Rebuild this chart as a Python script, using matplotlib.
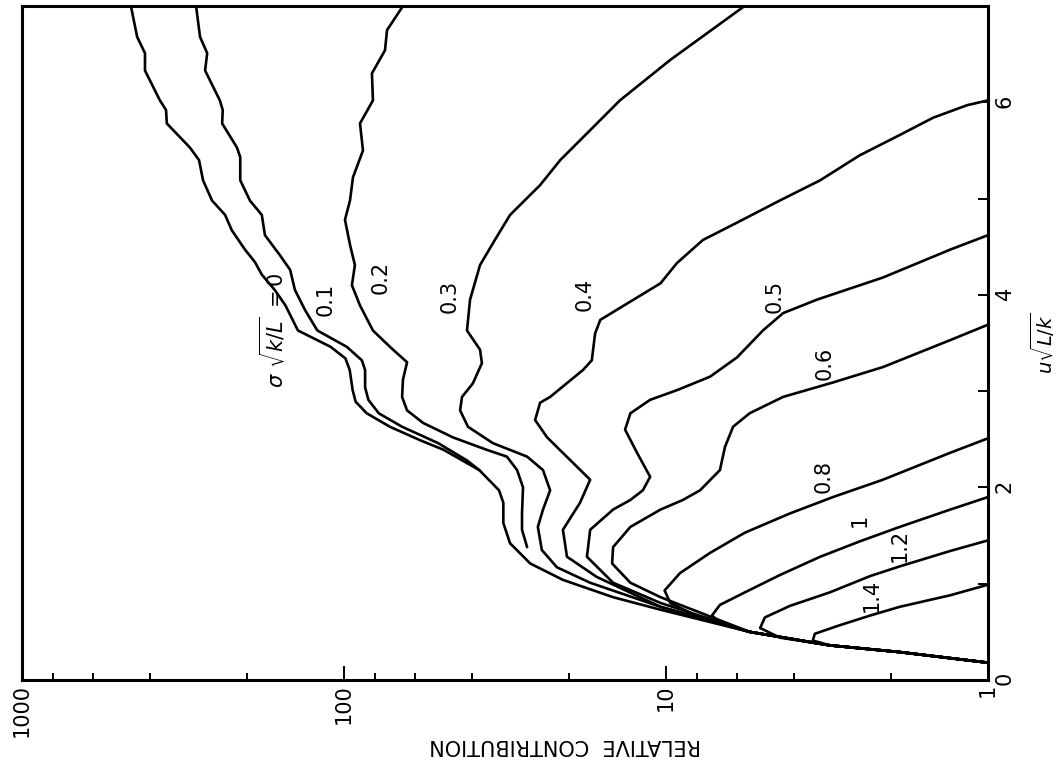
import matplotlib
matplotlib.use('Agg')
import matplotlib.pyplot as plt
from matplotlib.ticker import FixedLocator, NullFormatter

plt.rcParams['font.family'] = ['DejaVu Sans']
plt.rcParams['mathtext.fontset'] = 'dejavusans'

# values: u*sqrt(L/k) and relative contribution
# for each sigma*sqrt(k/L)
u_00 = [0.18, 0.29, 0.36, 0.50, 0.73, 0.86, 1.04, 1.21, 1.42, 1.63, 1.84, 1.97,
        2.18, 2.39, 2.49, 2.63, 2.77, 2.89, 3.01, 3.22, 3.34, 3.46, 3.63, 3.89,
        4.05, 4.21, 4.34, 4.47, 4.67, 4.83, 4.98, 5.19, 5.40, 5.53, 5.78, 5.92,
        6.02, 6.33, 6.51, 6.68, 7.0]
c_00 = [1, 1.88, 3.1, 5.5, 10.4, 14.6, 20.9, 26.4, 30.5, 32, 32, 33,
        38, 49, 58, 72, 85, 92, 94, 96, 99, 110, 139, 152,
        164, 180, 189, 203, 223, 234, 257, 274, 282, 301, 355, 357,
        373, 415, 415, 439, 459]

u_01 = [2.18, 2.28, 2.46, 2.63, 2.77, 2.91, 3.04, 3.22, 3.32, 3.46, 3.63, 3.84,
        4.05, 4.26, 4.41, 4.62, 4.83, 4.98, 5.19, 5.43, 5.53, 5.78, 5.92, 6.02,
        6.33, 6.51, 6.68, 7.0]
c_01 = [38, 41.5, 51, 66, 78, 84, 86, 86, 88, 98, 121, 132,
        142, 147, 158, 176, 180, 196, 210, 210, 215, 239, 238, 243,
        270, 266, 280, 288]

u_02 = [1.38, 1.56, 1.73, 2.00, 2.18, 2.32, 2.39, 2.52, 2.67, 2.80, 2.94, 3.12,
        3.30, 3.46, 3.63, 3.89, 4.10, 4.31, 4.52, 4.78, 4.98, 5.22, 5.50, 5.78,
        6.02, 6.30, 6.54, 6.75, 7.0]
c_02 = [27, 28, 28, 27.8, 29, 31.2, 36, 45.9, 56.8, 63.7, 66, 65.6,
        63.7, 72, 81.3, 89.2, 94.5, 92.5, 95.8, 99.3, 95.8, 93.8, 87.3, 89.2,
        81.3, 81.9, 74.6, 73.5, 65.6]

u_03 = [0.18, 0.29, 0.36, 0.50, 0.76, 1.01, 1.17, 1.35, 1.59, 1.77, 1.97, 2.18,
        2.32, 2.46, 2.63, 2.80, 2.94, 3.08, 3.29, 3.43, 3.63, 3.95, 4.31, 4.57,
        4.83, 5.14, 5.40, 5.71, 6.02, 6.44, 7.0]
c_03 = [1, 1.88, 3.1, 5.5, 10.4, 17.2, 21.8, 24.3, 25, 24.1, 22.9, 24.1,
        27, 34.5, 41.2, 43.6, 43, 39.8, 37.3, 37.8, 41.5, 40.6, 37.8, 34,
        30.5, 24.6, 21.3, 17.2, 13.9, 9.7, 5.7]

u_04 = [0.18, 0.29, 0.36, 0.50, 0.76, 1.07, 1.28, 1.56, 1.84, 2.08, 2.52, 2.70,
        2.88, 2.94, 3.22, 3.32, 3.60, 3.74, 3.91, 4.12, 4.33, 4.57, 4.75, 4.98,
        5.19, 5.45, 5.66, 5.84, 5.97, 6.02]
c_04 = [1, 1.88, 3.1, 5.5, 10.4, 16.4, 20.3, 20.9, 18.5, 17.2, 23.4, 25.5,
        24.6, 22.9, 18.1, 17, 16.6, 16, 13.2, 10.4, 9.25, 7.68, 6.02, 4.43,
        3.32, 2.5, 1.88, 1.48, 1.16, 1.0]

u_05 = [0.18, 0.29, 0.36, 0.50, 0.80, 1.01, 1.28, 1.56, 1.77, 1.87, 1.97, 2.11,
        2.36, 2.60, 2.77, 2.91, 3.01, 3.15, 3.35, 3.63, 3.81, 3.95, 4.18, 4.47,
        4.62]
c_05 = [1, 1.88, 3.1, 5.5, 10.4, 14.6, 17.6, 17.2, 14.6, 12.9, 11.8, 11.2,
        12.3, 13.4, 12.9, 11.2, 9.25, 7.3, 6.02, 5.0, 4.33, 3.4, 2.12, 1.31,
        1.0]

u_06 = [0.18, 0.29, 0.36, 0.50, 0.86, 1.01, 1.21, 1.38, 1.59, 1.77, 1.87, 1.97,
        2.18, 2.42, 2.63, 2.77, 2.94, 3.09, 3.25, 3.53, 3.69]
c_06 = [1, 1.88, 3.1, 5.5, 10.4, 12.9, 14.7, 14.6, 12.9, 10.4, 8.86, 7.84,
        6.8, 6.56, 6.19, 5.5, 4.33, 3.03, 2.12, 1.31, 1.0]

u_08 = [0.18, 0.29, 0.36, 0.50, 0.65, 0.80, 0.93, 1.11, 1.32, 1.53, 1.73, 1.90,
        2.08, 2.36, 2.51]
c_08 = [1, 1.88, 3.1, 5.5, 7.84, 9.7, 10.1, 9.05, 7.3, 5.69, 4.12, 3.03,
        2.12, 1.31, 1.0]

u_10 = [0.18, 0.29, 0.36, 0.50, 0.58, 0.67, 0.78, 0.91, 1.09, 1.28, 1.44, 1.59,
        1.77, 1.90]
c_10 = [1, 1.88, 3.1, 5.5, 6.7, 7.2, 6.8, 5.69, 4.43, 3.32, 2.5, 1.88,
        1.31, 1.0]

u_12 = [0.18, 0.29, 0.36, 0.44, 0.54, 0.65, 0.77, 0.91, 1.08, 1.18, 1.34, 1.45]
c_12 = [1, 1.88, 3.1, 4.43, 5.1, 4.93, 4.12, 3.1, 2.32, 1.88, 1.31, 1.0]

u_14 = [0.18, 0.29, 0.36, 0.41, 0.48, 0.57, 0.67, 0.76, 0.88, 0.99]
c_14 = [1, 1.88, 3.1, 3.5, 3.45, 2.88, 2.32, 1.88, 1.31, 1.0]

curves = [(u_00, c_00), (u_01, c_01), (u_02, c_02), (u_03, c_03), (u_04, c_04),
          (u_05, c_05), (u_06, c_06), (u_08, c_08), (u_10, c_10), (u_12, c_12),
          (u_14, c_14)]

curve_labels = [r'$\sigma\ \sqrt{k/L}\ = 0$', '0.1', '0.2', '0.3', '0.4', '0.5',
                '0.6', '0.8', '1', '1.2', '1.4']
# where each label sits (relative contribution, u)
label_pos = [(167, 3.63), (114, 3.95), (77, 4.18), (46.9, 3.98), (17.9, 4.00),
             (4.59, 3.98), (3.21, 3.29), (3.25, 2.11), (2.5, 1.66), (1.88, 1.40),
             (2.29, 0.88)]

x_ticks = [1, 10, 100, 1000]
x_ticklabels = ['1', '10', '100', '1000']
y_ticks = [0, 2, 4, 6]

fig = plt.figure(figsize=(10.56, 7.77), dpi=100)
ax = fig.add_axes([22 / 1056, 1 - 680 / 777, 966 / 1056, 674 / 777])

for u, c in curves:
    ax.plot(c, u, color='black', lw=1.9, solid_joinstyle='round',
            solid_capstyle='round')

for txt, (cx, uy) in zip(curve_labels, label_pos):
    ax.text(cx, uy, txt, rotation=90, ha='center', va='center', fontsize=15)

ax.set_xscale('log')
ax.set_xlim(1000, 1)
ax.set_ylim(0, 7)

ax.xaxis.set_major_locator(FixedLocator(x_ticks))
ax.xaxis.set_minor_locator(FixedLocator([2, 4, 6, 8, 20, 40, 60, 80,
                                         200, 400, 600, 800]))
ax.xaxis.set_minor_formatter(NullFormatter())
ax.set_xticklabels(x_ticklabels)
ax.tick_params(axis='x', which='major', direction='in', length=10, width=1.4,
               labelsize=15, pad=3, labelrotation=90)
ax.tick_params(axis='x', which='minor', direction='in', length=5, width=1.4)

ax.yaxis.tick_right()
ax.yaxis.set_label_position('right')
ax.set_yticks(y_ticks)
ax.yaxis.set_minor_locator(FixedLocator([1, 3, 5]))
ax.tick_params(axis='y', which='both', direction='in', length=7, width=1.4,
               labelsize=15, pad=5, labelrotation=90)
ax.set_ylabel(r'$u\sqrt{L/k}$', rotation=90, fontsize=14, labelpad=10)

for sp in ax.spines.values():
    sp.set_linewidth(2.2)

fig.text(565 / 1056, 1 - 745 / 777, 'RELATIVE  CONTRIBUTION', rotation=180,
         ha='center', va='center', fontsize=15)

fig.savefig('out.png', dpi=100, facecolor='white')
